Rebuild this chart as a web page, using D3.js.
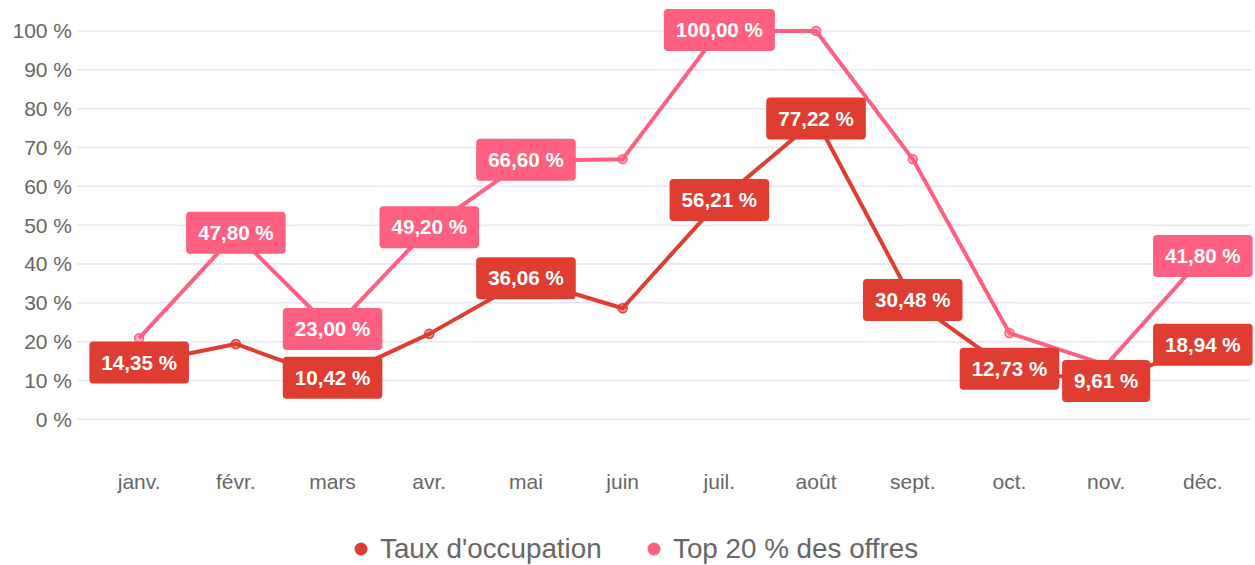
<!DOCTYPE html>
<html>
<head>
<meta charset="utf-8">
<script src="https://cdn.jsdelivr.net/npm/d3@7"></script>
<style>
  body { margin: 0; background: #fff; }
  svg text { font-family: "Liberation Sans", Arial, Helvetica, sans-serif; }
</style>
</head>
<body>
<div id="chart"></div>
<script>
const months = ["janv.", "févr.", "mars", "avr.", "mai", "juin", "juil.", "août", "sept.", "oct.", "nov.", "déc."];
const yTicks = [0, 10, 20, 30, 40, 50, 60, 70, 80, 90, 100];

const occupation = [14.35, 19.4, 10.42, 22.0, 36.06, 28.6, 56.21, 77.22, 30.48, 12.73, 9.61, 18.94];
const top20 = [20.9, 47.80, 23.00, 49.20, 66.60, 67.0, 100.00, 100.0, 67.0, 22.2, 14.0, 41.80];

// which points carry a value label (the others were hidden to avoid overlap)
const occupationLabelled = [0, 2, 4, 6, 7, 8, 9, 10, 11];
const top20Labelled = [1, 2, 3, 4, 6, 11];

const series = [
    { name: "Taux d'occupation", values: occupation, labelled: occupationLabelled, color: "#df3c32" },
    { name: "Top 20 % des offres", values: top20, labelled: top20Labelled, color: "#ff5f80" }
];

const width = 1255, height = 565;
const fmt = v => v.toFixed(2).replace(".", ",") + " %";

const svg = d3.select("#chart").append("svg")
    .attr("width", width)
    .attr("height", height);

const x = d3.scalePoint()
    .domain(months)
    .range([90.8, 1251.2])
    .padding(0.5);

const y = d3.scaleLinear()
    .domain([0, 100])
    .range([419.3, 31]);

// grid lines
svg.append("g")
    .selectAll("line")
    .data(yTicks)
    .join("line")
    .attr("x1", 77)
    .attr("x2", 1251)
    .attr("y1", d => y(d))
    .attr("y2", d => y(d))
    .attr("stroke", "#e5e4f0")
    .attr("stroke-width", 1.5);

// y axis labels
svg.append("g")
    .selectAll("text")
    .data(yTicks)
    .join("text")
    .attr("x", 72)
    .attr("y", d => y(d))
    .attr("dy", "0.35em")
    .attr("text-anchor", "end")
    .attr("fill", "#666")
    .style("font-size", "21px")
    .text(d => d + " %");

// x axis labels
svg.append("g")
    .selectAll("text")
    .data(months)
    .join("text")
    .attr("x", d => x(d))
    .attr("y", 489)
    .attr("text-anchor", "middle")
    .attr("fill", "#666")
    .style("font-size", "21px")
    .text(d => d);

const line = d3.line()
    .x((d, i) => x(months[i]))
    .y(d => y(d));

// draw pink below red
const drawOrder = [series[1], series[0]];

drawOrder.forEach(s => {
    svg.append("path")
        .datum(s.values)
        .attr("fill", "none")
        .attr("stroke", s.color)
        .attr("stroke-width", 4)
        .attr("stroke-linejoin", "round")
        .attr("d", line);

    svg.append("g")
        .selectAll("circle")
        .data(s.values)
        .join("circle")
        .attr("cx", (d, i) => x(months[i]))
        .attr("cy", d => y(d))
        .attr("r", 4.5)
        .attr("fill", d3.color(s.color).copy({ opacity: 0.5 }))
        .attr("stroke", s.color)
        .attr("stroke-width", 1.5);
});

// value labels
drawOrder.forEach(s => {
    s.labelled.forEach(i => {
        const g = svg.append("g")
            .attr("transform", "translate(" + x(months[i]) + "," + Math.max(y(s.values[i]) - 1, 29) + ")");
        const rect = g.append("rect");
        const t = g.append("text")
            .attr("text-anchor", "middle")
            .attr("dy", "0.35em")
            .attr("fill", "#fff")
            .style("font-size", "20.6px")
            .style("font-weight", "bold")
            .text(fmt(s.values[i]));
        const w = t.node().getComputedTextLength() + 24;
        rect.attr("x", -w / 2)
            .attr("y", -21)
            .attr("width", w)
            .attr("height", 42)
            .attr("rx", 4)
            .attr("fill", s.color);
    });
});

// legend
const legendX = [361, 654];
series.forEach((s, k) => {
    svg.append("circle")
        .attr("cx", legendX[k])
        .attr("cy", 549)
        .attr("r", 6.5)
        .attr("fill", s.color);
    svg.append("text")
        .attr("x", legendX[k] + 19)
        .attr("y", 558)
        .attr("fill", "#666")
        .style("font-size", "27.8px")
        .text(s.name);
});
</script>
</body>
</html>
